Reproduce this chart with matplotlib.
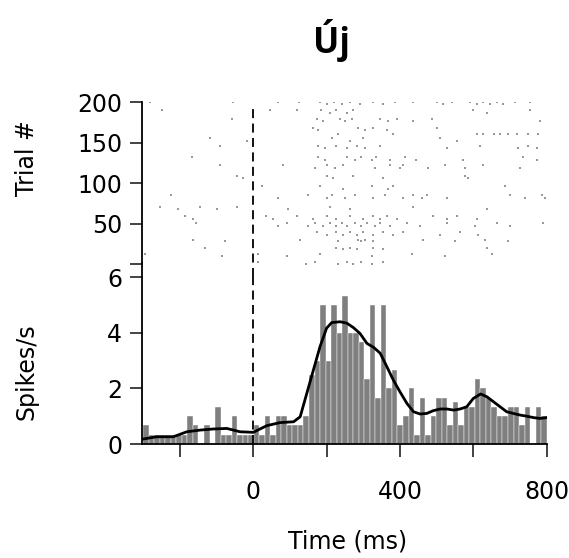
import numpy as np
import matplotlib
matplotlib.use("Agg")
import matplotlib.pyplot as plt

plt.rcParams['font.family'] = ['DejaVu Sans']

# PSTH: 15 ms bins from -300 to 800 ms (spikes/s)
psth_rate = [0.67, 0.33, 0.33, 0.33, 0.33, 0.33, 0.33, 0.33, 1.0, 0.67,
             0.0, 0.67, 0.0, 1.33, 0.33, 0.33, 1.0, 0.33, 0.33, 0.33,
             0.67, 0.33, 1.0, 0.33, 1.0, 1.0, 0.67, 0.67, 0.67, 1.0,
             2.5, 3.0, 5.0, 3.0, 5.0, 4.0, 5.33, 4.0, 4.0, 3.67,
             2.33, 5.0, 1.67, 5.0, 2.0, 2.67, 0.67, 1.0, 2.0, 0.33,
             1.67, 0.33, 1.0, 1.67, 1.67, 0.67, 1.5, 0.67, 1.33, 1.33,
             2.33, 2.0, 1.67, 1.33, 1.0, 1.0, 1.33, 1.33, 0.67, 1.33,
             0.0, 1.33, 1.0]
bin_edges = np.linspace(-300, 800, len(psth_rate) + 1)

# smoothed rate
smooth_t = [-300, -263, -218, -181, -145, -109, -72, -36, 0, 37, 73, 110, 128,
            146, 164, 182, 200, 214, 237, 255, 273, 291, 310, 328, 346, 364,
            382, 400, 419, 437, 455, 473, 491, 510, 528, 546, 564, 582, 600,
            620, 637, 655, 673, 691, 709, 728, 746, 764, 782, 800]
smooth_r = [0.18, 0.26, 0.26, 0.44, 0.5, 0.54, 0.56, 0.44, 0.42, 0.66, 0.77, 0.8, 0.98,
            1.82, 2.66, 3.5, 4.17, 4.37, 4.4, 4.35, 4.19, 3.98, 3.62, 3.48, 3.27, 2.79,
            2.3, 1.88, 1.46, 1.16, 1.08, 1.1, 1.2, 1.26, 1.26, 1.22, 1.26, 1.34, 1.64,
            1.8, 1.7, 1.52, 1.34, 1.16, 1.1, 1.04, 1.0, 0.95, 0.92, 0.95]

# raster: trial number -> spike times (ms)
raster = {
    200: [-282, -55, 68, 125, 182, 220, 264, 327, 386, 436, 500, 541, 591, 627, 664, 714, 755],
    198: [200, 241, 291, 355, 518, 609, 645, 682],
    190: [-250, 47, 118, 186, 227, 273, 600, 755],
    187: [209, 255, 636],
    179: [-59, 173, 236, 268, 345, 391, 486],
    176: [191, 250, 368, 436, 782],
    168: [164, 286, 327, 500],
    166: [177, 305, 364],
    161: [232, 382, 609, 627, 655, 673, 695, 718, 750, 777],
    155: [-118, 214, 300, 509],
    152: [-18, 264, 555],
    146: [-91, 177, 227, 282, 345, 618, 750],
    143: [195, 255, 305, 527, 723, 773],
    132: [-168, 177, 255, 295, 336, 414, 736],
    128: [195, 277, 323, 373, 445, 573, 773],
    122: [-91, 82, 200, 245, 373, 409, 523, 627],
    118: [168, 223, 332, 400, 477, 577, 727],
    109: [-45, 200, 273, 577],
    106: [-27, 218, 355, 586],
    96: [23, 182, 323, 382, 686],
    93: [245, 368],
    85: [-223, 150, 214, 277, 359, 436, 473, 700, 786],
    81: [68, 200, 250, 327, 409, 459, 527, 741, 795],
    71: [-255, -145, -45, 209, 436],
    68: [-205, -100, 95, 264, 636],
    59: [-186, 36, 118, 200, 264, 327, 364, 491, 555],
    55: [-164, 55, 164, 227, 300, 345, 391, 527, 609],
    51: [-155, 91, 168, 209, 241, 277, 309, 345, 418, 527, 664, 791],
    47: [68, 150, 191, 227, 255, 295, 332, 373, 455, 605, 700],
    40: [173, 227, 264, 300, 355, 409, 564],
    36: [200, 245, 282, 327, 382, 509, 614],
    30: [-164, 127, 286, 305, 464, 632],
    28: [-77, 232, 295, 327, 550, 695],
    20: [-132, 227, 264, 327, 636],
    18: [245, 282, 355],
    12: [-295, 14, 182, 432, 650],
    10: [-86, 91, 323, 523],
    2: [14, 168, 255, 295, 355],
    0: [145, 232, 273, 323],
}

W, H = 569, 558
fig = plt.figure(figsize=(W / 100, H / 100), dpi=100)

def frac_box(x0, x1, ytop, ybot):
    return [x0 / W, 1 - ybot / H, (x1 - x0) / W, (ybot - ytop) / H]

ax_r = fig.add_axes(frac_box(141.7, 546.7, 102, 277))
ax_p = fig.add_axes(frac_box(141.7, 546.7, 277.3, 444))

tx = []
ty = []
for trial, times in raster.items():
    tx.extend(times)
    ty.extend([trial] * len(times))
ax_r.scatter(tx, ty, s=1.5, marker='s', color='#999999', linewidths=0)
ax_r.axvline(0, color='black', lw=1.3, ls=(0, (5, 3)), ymax=0.985)
ax_r.set_xlim(-304, 800)
ax_r.set_ylim(-16, 200)
ax_r.set_yticks([0, 50, 100, 150, 200])
ax_r.set_yticklabels(['', '50', '100', '150', '200'])
ax_r.set_xticks([])
for s in ['top', 'right', 'bottom']:
    ax_r.spines[s].set_visible(False)
ax_r.spines['left'].set_bounds(0, 200)

ax_p.bar(bin_edges[:-1], psth_rate, width=np.diff(bin_edges), align='edge',
         color='#7f7f7f', edgecolor='white', linewidth=0.3, zorder=2)
ax_p.plot(smooth_t, smooth_r, color='black', lw=2.0, zorder=3)
ax_p.axvline(0, color='black', lw=1.3, ls=(0, (5, 3)), zorder=4)
ax_p.set_xlim(-304, 800)
ax_p.set_ylim(0, 6)
ax_p.set_yticks([0, 2, 4, 6])
ax_p.set_xticks([-200, 0, 200, 400, 600, 800])
ax_p.set_xticklabels(['', '0', '', '400', '', '800'])
for s in ['top', 'right']:
    ax_p.spines[s].set_visible(False)
ax_p.spines['left'].set_bounds(0, 6.5)

for ax in (ax_r, ax_p):
    ax.tick_params(axis='both', direction='out', length=9, width=1.2,
                   labelsize=17, color='#222222')
    ax.tick_params(axis='y', pad=5)
    for s in ax.spines.values():
        s.set_linewidth(1.3)
ax_p.tick_params(axis='x', pad=17)
ax_p.spines['left'].set_clip_on(False)

fig.text(27 / W, 1 - 158 / H, 'Trial #', fontsize=17, rotation=90,
         ha='center', va='center')
fig.text(27 / W, 1 - 372 / H, 'Spikes/s', fontsize=17, rotation=90,
         ha='center', va='center')
fig.text(348 / W, 1 - 541 / H, 'Time (ms)', fontsize=17,
         ha='center', va='center')
fig.text(332 / W, 1 - 40 / H, 'Új', fontsize=25, fontweight='bold',
         ha='center', va='center', family=['Open Sans', 'DejaVu Sans'])

fig.savefig('out.png', dpi=100)
